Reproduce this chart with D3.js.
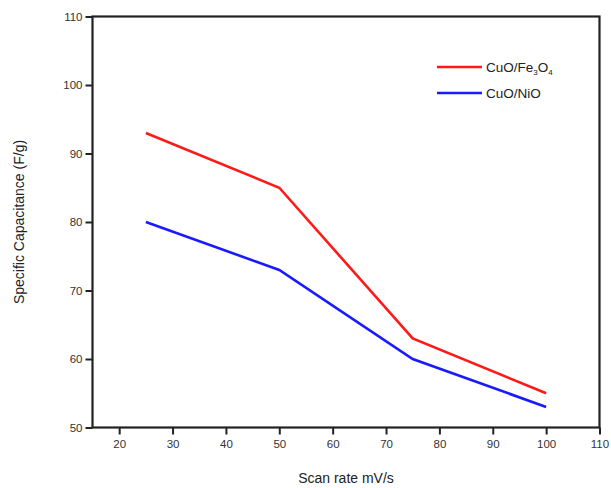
<!DOCTYPE html>
<html><head><meta charset="utf-8">
<script src="https://cdn.jsdelivr.net/npm/d3@7"></script>
<style>body{margin:0;background:#fff}svg{display:block}text{font-family:"Liberation Sans",Arial,sans-serif;fill:#222}</style>
</head><body><svg id="c" width="611" height="488"></svg>
<script>
const scanRates = [25, 50, 75, 100];
const cuoFe3o4 = [93, 85, 63, 55];
const cuoNio = [80, 73, 60, 53];
const xTicks = [20, 30, 40, 50, 60, 70, 80, 90, 100, 110];
const yTicks = [50, 60, 70, 80, 90, 100, 110];

const svg = d3.select("#c");
const L = 92.5, R = 599.5, T = 16.5, B = 427.5;
const x = d3.scaleLinear().domain([15, 110]).range([L, R]);
const y = d3.scaleLinear().domain([50, 110]).range([B, T]);

const gx = svg.append("g").attr("transform", `translate(0,${B})`)
  .call(d3.axisBottom(x).tickValues(xTicks).tickSize(7).tickPadding(5));
const gy = svg.append("g").attr("transform", `translate(${L},0)`)
  .call(d3.axisLeft(y).tickValues(yTicks).tickSize(7).tickPadding(3));
[gx, gy].forEach(g => {
  g.select(".domain").remove();
  g.selectAll(".tick line").attr("stroke", "#222").attr("stroke-width", 2);
  g.selectAll(".tick text").attr("font-size", 11.5).style("fill", "#333");
});
// frame
svg.append("rect").attr("x", L).attr("y", T).attr("width", R - L).attr("height", B - T)
  .attr("fill", "none").attr("stroke", "#222").attr("stroke-width", 2.2);

const line = d3.line().x(d => x(d[0])).y(d => y(d[1]));
const series = [
  {name: "CuO/Fe3O4", vals: cuoFe3o4, color: "#ff1a1a"},
  {name: "CuO/NiO", vals: cuoNio, color: "#1a1aff"}
];
series.forEach(s => {
  svg.append("path").datum(scanRates.map((r, i) => [r, s.vals[i]]))
    .attr("d", line).attr("fill", "none").attr("stroke", s.color).attr("stroke-width", 2.6);
});

// legend
const leg = [{c: "#ff1a1a", y: 67}, {c: "#1a1aff", y: 93}];
leg.forEach(l => svg.append("line").attr("x1", 437).attr("x2", 482).attr("y1", l.y).attr("y2", l.y)
  .attr("stroke", l.c).attr("stroke-width", 2.6));
const t1 = svg.append("text").attr("x", 486).attr("y", 72).attr("font-size", 13.5);
t1.append("tspan").text("CuO/Fe");
t1.append("tspan").text("3").attr("font-size", 8).attr("dy", 3);
t1.append("tspan").text("O").attr("dy", -3);
t1.append("tspan").text("4").attr("font-size", 8).attr("dy", 3);
svg.append("text").attr("x", 486).attr("y", 98).attr("font-size", 13.5).text("CuO/NiO");

// axis titles
svg.append("text").attr("x", (L + R) / 2).attr("y", 483).attr("text-anchor", "middle")
  .attr("font-size", 14).text("Scan rate mV/s");
svg.append("text").attr("transform", `translate(24,${(T + B) / 2}) rotate(-90)`)
  .attr("text-anchor", "middle").attr("font-size", 14).text("Specific Capacitance (F/g)");
</script></body></html>
